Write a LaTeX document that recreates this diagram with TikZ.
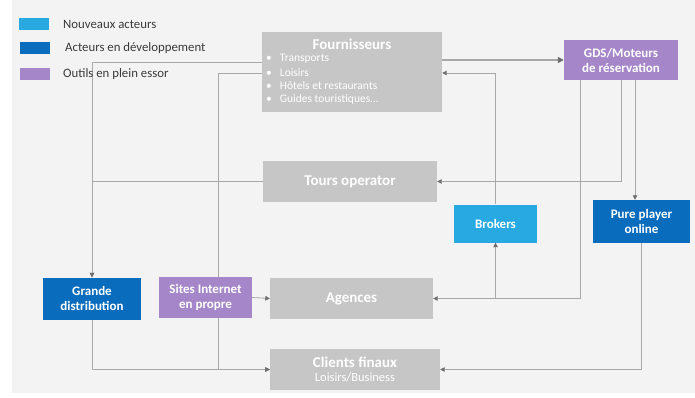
\documentclass[tikz,border=0pt]{standalone}
\usepackage{fontspec}
\setmainfont{Carlito}
\usetikzlibrary{arrows.meta}
\pgfdeclarelayer{bg}
\pgfsetlayers{bg,main}
\definecolor{bgc}{HTML}{F3F3F3}
\definecolor{boxgray}{HTML}{C6C6C6}
\definecolor{lblue}{HTML}{29A9E1}
\definecolor{dblue}{HTML}{0A6CBC}
\definecolor{purp}{HTML}{A587C9}
\definecolor{linec}{HTML}{A8A8A8}
\definecolor{tipc}{HTML}{6E6E6E}
\definecolor{legtext}{HTML}{3A3A3A}
\tikzset{
  boxbase/.style={rectangle, inner sep=1pt, align=center, text=white, font=\bfseries\fontsize{13}{15}\selectfont},
  bigfont/.style={font=\bfseries\fontsize{15}{16}\selectfont},
  graybox/.style={boxbase, fill=boxgray},
  lbluebox/.style={boxbase, fill=lblue},
  dbluebox/.style={boxbase, fill=dblue},
  purpbox/.style={boxbase, fill=purp},
  conn/.style={draw=linec, line width=0.8pt},
  arr/.style={conn, -{Triangle[length=4.5pt,width=4.5pt,color=tipc,fill=tipc]}},
  legsw/.style={rectangle, minimum width=30pt, minimum height=12pt, inner sep=0pt},
  legtxt/.style={anchor=west, text=legtext, font=\fontsize{12.8}{14}\selectfont, inner sep=0pt},
  fitem/.style={anchor=west, text=white, font=\fontsize{11.5}{13}\selectfont, inner sep=0pt}
}
\begin{document}
\begin{tikzpicture}[x=1pt,y=-1pt]
\useasboundingbox (0,0) rectangle (695,398);

% legend
\node[legsw, fill=lblue] (sw1) at (34,24) {};
\node[legtxt] (lt1) at (63,24) {Nouveaux acteurs};
\node[legsw, fill=dblue] (sw2) at (35,48.5) {};
\node[legtxt] (lt2) at (65,48.5) {Acteurs en développement};
\node[legsw, fill=purp] (sw3) at (35,74) {};
\node[legtxt] (lt3) at (63,74) {Outils en plein essor};

% boxes
\node[graybox, minimum width=180pt, minimum height=80pt] (fourn) at (352,72) {};
\node[text=white, bigfont, inner sep=0pt] (ftitle) at (352,44) {Fournisseurs};
\node[fitem] (f1) at (266,59) {•\hspace{8pt}Transports};
\node[fitem] (f2) at (266,72.5) {•\hspace{8pt}Loisirs};
\node[fitem] (f3) at (266,86) {•\hspace{8pt}Hôtels et restaurants};
\node[fitem] (f4) at (266,99.5) {•\hspace{8pt}Guides touristiques…};

\node[purpbox, minimum width=114pt, minimum height=40pt] (gds) at (621,60) {GDS/Moteurs\\de réservation};
\node[graybox, bigfont, minimum width=174pt, minimum height=41pt] (tours) at (350,181.5) {Tours operator};
\node[lbluebox, minimum width=83pt, minimum height=38pt] (brokers) at (495.5,223.5) {Brokers};
\node[dbluebox, minimum width=97pt, minimum height=43pt] (pure) at (641.5,221.5) {Pure player\\online};
\node[dbluebox, minimum width=98pt, minimum height=42pt] (gd) at (92,298.5) {Grande\\distribution};
\node[purpbox, minimum width=93pt, minimum height=41pt] (sites) at (205.5,297.5) {Sites Internet\\en propre};
\node[graybox, bigfont, minimum width=163pt, minimum height=41pt] (agences) at (351.5,298.5) {Agences};
\node[graybox, bigfont, minimum width=170pt, minimum height=41pt] (clients) at (355,369.5) {Clients finaux\\[-2pt]{\mdseries\fontsize{12.5}{14}\selectfont Loisirs/Business}};

\coordinate (fx) at (218,73);

% background and connectors
\begin{pgfonlayer}{bg}
\fill[white] (0,0) rectangle (695,398);
\fill[bgc] (12,0) rectangle (695,393);
\draw[conn, line width=1.6pt, -{Triangle[length=6pt,width=6pt,color=tipc,fill=tipc]}] (fourn.east |- gds.west) -- (gds.west);
\draw[arr] (brokers.north) |- ([yshift=-1pt]fourn.east);
\draw[arr] ([xshift=-41pt]gds.south) |- (agences.east);
\draw[arr] (brokers.south |- agences.east) -- (brokers.south);
\draw[arr] (gds.south) |- (tours.east);
\draw[arr] ([xshift=14pt]gds.south) -- ([xshift=14pt]gds.south |- pure.north);
\draw[arr] (pure.south) |- (clients.east);
\draw[arr] ([yshift=10pt]fourn.west) -| (gd.north);
\draw[arr] (tours.west) -| (gd.north);
\draw[arr] ([yshift=-1pt]fourn.west) -| (fx |- clients.west) -- (clients.west);
\draw[arr] (gd.south) |- (clients.west);
\draw[arr] (sites.east) -- (agences.west);
\end{pgfonlayer}
\end{tikzpicture}
\end{document}
